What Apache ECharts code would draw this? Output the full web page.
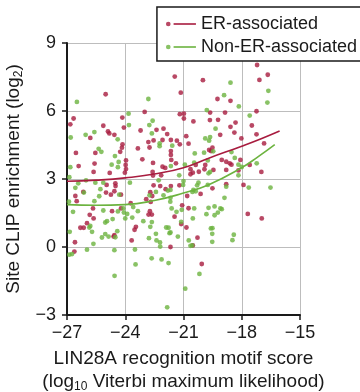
<!DOCTYPE html>
<html>
<head>
<meta charset="utf-8">
<script src="https://cdn.jsdelivr.net/npm/echarts@6/dist/echarts.min.js"></script>
<style>
  html, body { margin: 0; padding: 0; background: #fff; }
  #chart { width: 360px; height: 392px; }
</style>
</head>
<body>
<div id="chart"></div>
<script>
const xTicks = [-27, -24, -21, -18, -15];
const yTicks = [-3, 0, 3, 6, 9];

// [motif score, enrichment]
const erPoints = [
  [-25.01, 6.74], [-26.66, 5.67], [-26.83, 5.41], [-24.15, 5.71], [-23.0, 5.96], [-24.07, 5.27],
  [-25.13, 5.35], [-24.89, 5.1], [-24.82, 5.01], [-24.56, 4.95], [-23.21, 5.14], [-22.39, 5.17],
  [-22.03, 5.22], [-21.84, 4.98],
  [-17.21, 8.03], [-16.66, 7.6], [-17.09, 7.37], [-21.45, 7.52], [-20.0, 7.36], [-21.14, 6.81],
  [-19.25, 6.53], [-18.58, 6.45], [-19.63, 5.93], [-18.86, 5.93], [-17.24, 5.99], [-21.19, 5.86],
  [-20.98, 5.88], [-20.98, 5.67], [-20.49, 5.54], [-19.64, 5.6], [-19.22, 5.61], [-18.32, 5.49],
  [-17.48, 5.36], [-18.58, 5.3], [-18.38, 5.05], [-19.11, 4.95], [-17.24, 4.97],
  [-25.8, 4.81], [-22.54, 4.7], [-22.08, 4.72], [-21.65, 4.72], [-22.81, 4.63], [-24.14, 4.53],
  [-24.17, 4.38], [-24.26, 4.2], [-23.35, 4.35], [-22.75, 4.39], [-26.54, 4.15], [-25.54, 4.15],
  [-21.65, 4.23], [-21.65, 4.06], [-23.96, 3.82], [-23.12, 3.87], [-25.58, 3.68], [-21.63, 3.84],
  [-26.4, 3.57], [-23.98, 3.62], [-23.96, 3.44], [-22.57, 3.71], [-22.08, 3.54], [-21.94, 3.49],
  [-24.8, 3.27], [-24.02, 3.28], [-25.63, 3.31], [-22.59, 3.31], [-22.57, 3.15], [-22.15, 3.16],
  [-21.65, 2.69], [-24.51, 2.81], [-24.5, 2.69], [-24.96, 2.74], [-22.54, 2.72], [-22.2, 2.69],
  [-21.92, 2.55], [-26.16, 2.43], [-24.99, 2.4], [-24.74, 2.31], [-24.56, 2.46], [-24.22, 2.31],
  [-26.57, 2.25], [-22.71, 2.42], [-22.61, 2.25], [-22.92, 2.11], [-22.69, 1.99], [-26.5, 2.02],
  [-23.72, 1.93], [-25.66, 1.7], [-24.22, 1.7], [-24.68, 1.58], [-25.83, 1.42], [-22.73, 1.58],
  [-22.63, 1.43], [-22.8, 1.43], [-25.63, 1.26], [-25.97, 1.05],
  [-21.34, 4.69], [-20.86, 4.89], [-21.19, 4.53], [-20.74, 4.56], [-18.02, 4.79], [-16.85, 4.57],
  [-19.51, 4.38], [-19.68, 4.28], [-19.58, 4.23], [-21.39, 3.69], [-20.37, 3.62], [-19.88, 3.62],
  [-19.92, 3.43], [-20.64, 3.43], [-20.64, 3.21], [-20.52, 3.28], [-20.21, 3.32], [-19.46, 3.4],
  [-19.03, 3.84], [-18.8, 3.76], [-18.62, 3.69], [-18.53, 3.63], [-18.07, 3.84], [-17.59, 3.62],
  [-18.17, 3.38], [-18.8, 3.4], [-16.99, 3.31], [-21.21, 2.72], [-19.51, 2.59], [-18.8, 2.77],
  [-17.91, 2.74], [-20.12, 2.34], [-20.81, 2.25], [-16.97, 1.26], [-17.69, 1.46], [-21.07, 1.84],
  [-20.74, 1.71], [-21.46, 1.34],
  [-26.31, 0.85], [-26.14, 0.85], [-24.56, 0.52], [-24.6, 0.46], [-23.45, 0.89], [-23.52, 0.76],
  [-23.67, 0.29], [-26.59, 0.21], [-26.62, -0.2], [-21.67, 0.0],
  [-21.12, 1.01], [-20.85, 0.86], [-20.28, 0.41], [-20.52, 0.07], [-20.06, -0.75]
];

const nonErPoints = [
  [-26.49, 6.4], [-22.81, 6.53], [-23.83, 5.88], [-22.59, 5.57], [-23.81, 5.38], [-22.76, 5.38],
  [-25.59, 5.07], [-26.04, 4.95], [-22.63, 5.01],
  [-18.58, 7.25], [-16.63, 6.89], [-18.91, 6.7], [-16.68, 6.37], [-18.15, 6.2], [-19.8, 6.04],
  [-17.59, 5.8], [-19.35, 5.22],
  [-26.81, 4.83], [-24.39, 4.75], [-22.23, 4.57], [-22.23, 4.45], [-21.58, 4.47], [-25.23, 4.2],
  [-25.37, 4.33], [-24.53, 4.01], [-24.34, 3.75], [-24.7, 3.63], [-26.83, 3.52], [-24.38, 3.52],
  [-21.65, 3.57], [-26.88, 3.08], [-26.42, 2.81], [-26.02, 2.94], [-25.54, 2.84], [-25.13, 2.84],
  [-23.76, 2.84], [-22.28, 2.94], [-21.8, 2.49], [-21.67, 2.52], [-26.57, 2.61], [-26.13, 2.4],
  [-25.28, 2.55], [-24.31, 2.31], [-25.34, 2.24], [-22.75, 2.28], [-22.42, 2.43], [-22.03, 2.28],
  [-21.67, 2.17], [-21.68, 2.0], [-26.9, 2.0], [-25.59, 2.02], [-23.59, 1.76], [-24.1, 1.7],
  [-25.13, 1.61], [-26.69, 1.55], [-24.38, 1.57], [-24.07, 1.52], [-23.9, 1.46], [-23.35, 1.58],
  [-23.07, 1.14], [-22.63, 1.1], [-24.0, 1.26], [-23.64, 1.3], [-24.65, 1.23], [-24.94, 1.14],
  [-25.03, 1.08], [-21.61, 1.7],
  [-19.88, 4.79], [-19.63, 4.85], [-19.68, 4.69], [-19.47, 4.22], [-20.42, 4.13], [-19.94, 4.16],
  [-18.53, 4.19], [-20.93, 3.63], [-20.45, 3.72], [-19.71, 3.25], [-19.63, 3.31], [-21.22, 3.16],
  [-19.75, 3.82], [-18.36, 3.93], [-18.17, 3.63], [-18.0, 3.53], [-17.23, 3.69], [-18.17, 3.16],
  [-21.0, 2.91], [-21.02, 2.74], [-20.23, 2.84], [-20.3, 2.72], [-19.75, 2.74], [-18.8, 2.66],
  [-17.64, 2.62], [-16.52, 2.62], [-20.49, 2.52], [-20.37, 2.46], [-20.54, 2.43], [-18.89, 2.17],
  [-21.09, 1.64], [-21.36, 1.55], [-20.45, 1.7], [-19.71, 1.73], [-19.4, 1.79], [-19.1, 1.7],
  [-19.03, 1.67], [-19.23, 1.52], [-19.82, 1.45], [-19.4, 1.4], [-21.12, 1.11], [-20.52, 1.26],
  [-25.8, 0.93], [-25.71, 0.67], [-25.85, 0.86], [-24.41, 0.7], [-25.03, 0.57], [-24.86, 0.46],
  [-25.2, 0.42], [-24.51, 0.43], [-26.86, 0.67], [-25.64, 0.14], [-22.71, 0.89], [-22.42, 0.58],
  [-22.78, 0.39], [-22.39, 0.29], [-22.21, 0.2], [-22.2, 0.02], [-21.89, 0.86], [-21.77, 0.85],
  [-21.72, 0.61], [-21.67, 0.64], [-26.88, -0.34], [-26.74, -0.31], [-25.97, -0.12], [-24.56, -0.14],
  [-23.5, -0.11], [-22.64, -0.5], [-22.13, -0.55], [-21.77, -0.71], [-23.47, -0.77], [-24.55, -1.27],
  [-21.84, -2.66],
  [-19.59, 0.82], [-19.51, 0.83], [-19.52, 0.58], [-18.41, 0.54], [-18.48, 0.3], [-21.29, 0.46],
  [-20.73, 0.29], [-20.64, 0.05], [-20.55, 0.07], [-19.52, 0.23], [-20.18, -1.19], [-20.91, -1.84]
];

// fitted trend lines
const erFit = [
  [-27, 2.9], [-25.5, 2.95], [-24, 3.05], [-22.5, 3.22], [-21, 3.5],
  [-19.7, 3.92], [-18, 4.45], [-17, 4.78], [-16.05, 5.12]
];
const nonErFit = [
  [-27, 1.87], [-25.5, 1.84], [-24, 1.87], [-22.5, 2.05], [-21, 2.38],
  [-19.7, 2.75], [-18, 3.5], [-17.15, 3.99], [-16.3, 4.52]
];

const RED = "#a81c3f";
const GREEN = "#6cb33f";
const FONT = "'Liberation Sans', Arial, sans-serif";
const INK = "#1a1a1a";
const legendIcon = "path://M1.8,4a2.2,2.2 0 1,0 4.4,0a2.2,2.2 0 1,0 -4.4,0zM9,3H30V5H9z";

const minus = (v) => String(v).replace("-", "\u2212");

const chart = echarts.init(document.getElementById("chart"));

chart.setOption({
  animation: false,
  textStyle: { fontFamily: FONT },
  grid: { left: 67, right: 60, top: 43, bottom: 77, outerBoundsMode: "none" },
  legend: {
    right: -12,
    top: 7,
    orient: "vertical",
    backgroundColor: "#fff",
    borderColor: INK,
    borderWidth: 1.5,
    padding: [8, 15, 5, 9],
    itemGap: 5,
    itemWidth: 30,
    itemHeight: 8,
    z: 10,
    textStyle: { fontSize: 18, color: INK, fontFamily: FONT },
    data: [
      { name: "ER-associated", icon: legendIcon },
      { name: "Non-ER-associated", icon: legendIcon },
    ],
  },
  xAxis: {
    type: "value",
    min: xTicks[0],
    max: xTicks[xTicks.length - 1],
    interval: 3,
    name: "{a|LIN28A recognition motif score}\n{a|(log}{sub|10}{a| Viterbi maximum likelihood)}",
    nameLocation: "middle",
    nameGap: 32,
    nameTextStyle: {
      color: INK,
      lineHeight: 23,
      rich: {
        a: { fontSize: 19, color: INK, fontFamily: FONT, lineHeight: 23 },
        sub: { fontSize: 12, color: INK, fontFamily: FONT, padding: [10, 0, 0, 0] },
      },
    },
    axisLine: { onZero: false, lineStyle: { color: INK, width: 2 } },
    axisTick: { length: 5, lineStyle: { color: INK, width: 1.5 } },
    axisLabel: { fontSize: 18, color: INK, margin: 9, formatter: minus },
    splitLine: { lineStyle: { color: "#bdbdbd", width: 1 } },
  },
  yAxis: {
    type: "value",
    min: yTicks[0],
    max: yTicks[yTicks.length - 1],
    interval: 3,
    name: "{a|Site CLIP enrichment (log}{sub|2}{a|)}",
    nameLocation: "middle",
    nameGap: 27,
    nameTextStyle: {
      color: INK,
      rich: {
        a: { fontSize: 19, color: INK, fontFamily: FONT },
        sub: { fontSize: 12, color: INK, fontFamily: FONT, padding: [10, 0, 0, 0] },
      },
    },
    axisLine: { onZero: false, lineStyle: { color: INK, width: 2 } },
    axisTick: { length: 5, lineStyle: { color: INK, width: 1.5 } },
    axisLabel: { fontSize: 18, color: INK, margin: 11, formatter: minus },
    splitLine: { lineStyle: { color: "#bdbdbd", width: 1 } },
  },
  series: [
    {
      name: "ER-associated",
      type: "scatter",
      data: erPoints,
      symbolSize: 4.8,
      itemStyle: { color: RED },
    },
    {
      name: "Non-ER-associated",
      type: "scatter",
      data: nonErPoints,
      symbolSize: 4.8,
      itemStyle: { color: GREEN },
    },
    {
      name: "ER-associated",
      type: "line",
      data: erFit,
      smooth: true,
      symbol: "none",
      lineStyle: { color: RED, width: 1.6 },
      itemStyle: { color: RED },
    },
    {
      name: "Non-ER-associated",
      type: "line",
      data: nonErFit,
      smooth: true,
      symbol: "none",
      lineStyle: { color: GREEN, width: 1.6 },
      itemStyle: { color: GREEN },
    },
  ],
});
</script>
</body>
</html>
